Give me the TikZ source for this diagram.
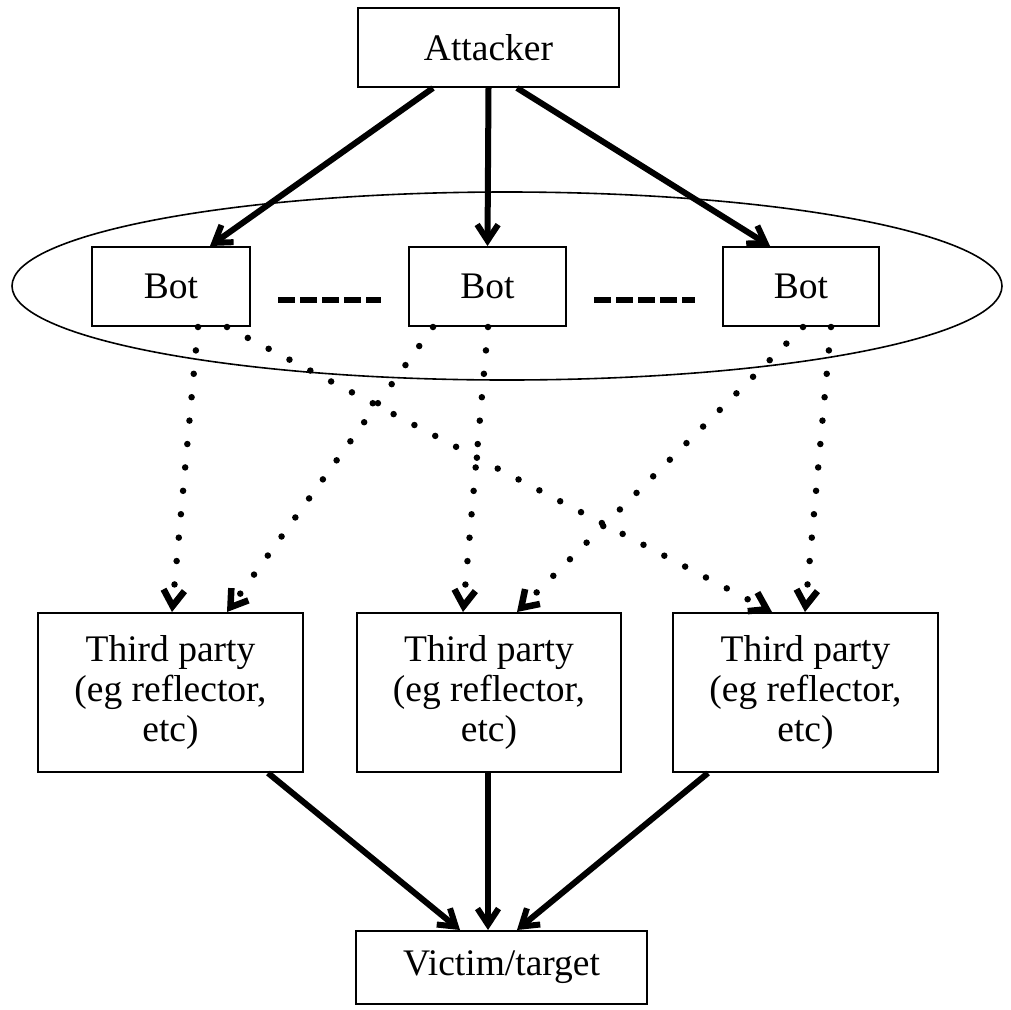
\documentclass[tikz,border=0pt]{standalone}
\usepackage{fontspec}
\setmainfont{Liberation Serif}
\usetikzlibrary{arrows.meta}
\begin{document}
\begin{tikzpicture}[x=1pt,y=-1pt,
  box/.style={draw, line width=2pt, fill=white, inner sep=0pt, align=center,
    font=\fontsize{37.5}{40}\selectfont},
  tip/.style={-{Straight Barb[length=16pt,width=21pt]}},
  solidarrow/.style={line width=6pt, tip},
  dotarrow/.style={line width=6.5pt, line cap=round, dash pattern=on 0pt off 23.5pt, tip},
  botgap/.style={line width=6.5pt, dash pattern=on 17pt off 5pt, shorten <=27pt, shorten >=27pt}]

% canvas
\fill[white] (0,0) rectangle (1010,1010);
\useasboundingbox (0,0) rectangle (1010,1010);

% botnet ellipse
\draw[line width=1.6pt] (507,286) ellipse [x radius=495pt, y radius=94pt];

% nodes
\node[box, minimum width=261pt, minimum height=79pt] (att) at (488.5,47.5) {Attacker};

\node[box, minimum width=158pt, minimum height=79pt] (b1) at (171,286.5) {Bot};
\node[box, minimum width=157pt, minimum height=79pt] (b2) at (487.5,286.5) {Bot};
\node[box, minimum width=156pt, minimum height=79pt] (b3) at (801,286.5) {Bot};

\node[box, minimum width=265pt, minimum height=159pt] (t1) at (170.5,692.5) {Third party\\(eg reflector,\\etc)};
\node[box, minimum width=264pt, minimum height=159pt] (t2) at (489,692.5) {Third party\\(eg reflector,\\etc)};
\node[box, minimum width=265pt, minimum height=159pt] (t3) at (805.5,692.5) {Third party\\(eg reflector,\\etc)};

\node[box, minimum width=291pt, minimum height=73pt] (vic) at (501.5,967.5) {Victim/target};

% "more bots" gaps
\draw[botgap] ([yshift=-13.5pt]b1.east) -- ([yshift=-13.5pt]b2.west);
\draw[botgap] ([yshift=-13.5pt]b2.east) -- ([yshift=-13.5pt]b3.west);

% attacker commands the bots
\draw[solidarrow] ([xshift=-55.5pt]att.south) -- ([xshift=39pt]b1.north);
\draw[solidarrow] (att.south) -- (b2.north);
\draw[solidarrow] ([xshift=28.5pt]att.south) -- ([xshift=-31pt]b3.north);

% bots send requests to third parties
\draw[dotarrow] ([xshift=27pt]b1.south) -- ([xshift=1.5pt]t1.north);
\draw[dotarrow] ([xshift=56pt]b1.south) -- ([xshift=-33.5pt]t3.north);
\draw[dotarrow] ([xshift=-54.5pt]b2.south) -- ([xshift=56.5pt]t1.north);
\draw[dotarrow] ([xshift=0.5pt]b2.south) -- ([xshift=-26pt]t2.north);
\draw[dotarrow] ([xshift=2pt]b3.south) -- ([xshift=28pt]t2.north);
\draw[dotarrow] ([xshift=30pt]b3.south) -- ([xshift=-0.5pt]t3.north);

% third parties hit the victim
\draw[solidarrow] ([xshift=97.5pt]t1.south) -- ([xshift=-41.5pt]vic.north);
\draw[solidarrow] ([xshift=-1pt]t2.south) -- ([xshift=-13.5pt]vic.north);
\draw[solidarrow] ([xshift=-97.5pt]t3.south) -- ([xshift=15.5pt]vic.north);
\end{tikzpicture}
\end{document}
